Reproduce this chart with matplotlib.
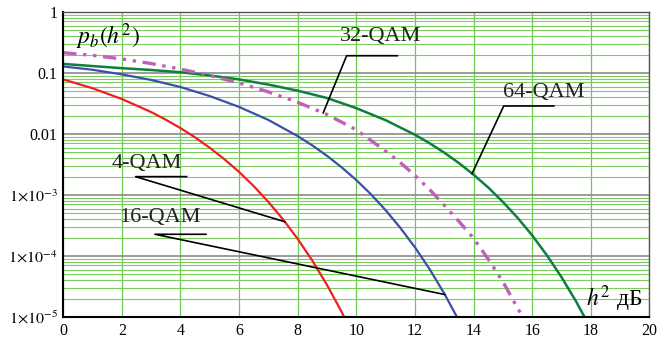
import numpy as np
import matplotlib
matplotlib.use("Agg")
import matplotlib.pyplot as plt
from matplotlib.ticker import FixedLocator, NullFormatter

plt.rcParams["font.family"] = ["Liberation Serif", "DejaVu Serif"]
plt.rcParams["mathtext.fontset"] = "stix"

# --- data: bit error probability vs h^2 [dB] ---
x_4qam = [0, 1, 2, 3, 3.5, 4, 4.5, 5, 5.5, 6, 6.5, 7, 7.5, 8, 8.5, 9, 9.5, 9.6]
p_4qam = [0.0786, 0.0563, 0.0375, 0.0229, 0.01717, 0.0125, 0.0088, 0.00595, 0.00386,
          0.00239, 0.00140, 7.7e-4, 3.98e-4, 1.91e-4, 8.4e-5, 3.36e-5, 1.21e-5, 9.7e-6]

x_16qam = [0, 1, 2, 3, 4, 5, 6, 7, 8, 8.5, 9, 9.5, 10, 10.5, 11, 11.5, 12, 12.5,
           13, 13.4, 13.45]
p_16qam = [0.128, 0.113, 0.095, 0.077, 0.059, 0.0419, 0.0278, 0.0170, 0.00924,
           0.0065, 0.00439, 0.00284, 0.00176, 0.001026, 5.64e-4, 2.9e-4, 1.39e-4,
           6.1e-5, 2.43e-5, 1.07e-5, 9.7e-6]

x_32qam = [0, 1, 2, 3, 4, 5, 6, 7, 8, 9, 10, 11, 11.5, 12, 12.5, 13, 13.5, 14,
           14.5, 15, 15.5, 15.68]
p_32qam = [0.215, 0.195, 0.170, 0.143, 0.116, 0.091, 0.0687, 0.049, 0.0331, 0.0209,
           0.0117, 0.00525, 0.0034, 0.00209, 0.00123, 6.8e-4, 3.7e-4, 1.95e-4,
           8.9e-5, 3.8e-5, 1.4e-5, 1.0e-5]

x_64qam = [0, 1, 2, 3, 4, 5, 6, 7, 8, 9, 10, 11, 12, 12.5, 13, 13.5, 14, 14.5, 15,
           15.5, 16, 16.5, 17, 17.5, 17.8]
p_64qam = [0.141, 0.130, 0.120, 0.112, 0.103, 0.091, 0.0785, 0.0646, 0.0513, 0.0389,
           0.0265, 0.01686, 0.00972, 0.00706, 0.00495, 0.00334, 0.00215, 0.00133,
           7.7e-4, 4.24e-4, 2.18e-4, 1.03e-4, 4.5e-5, 1.79e-5, 9.7e-6]

x_ticks = list(range(0, 21, 2))
y_ticks = [1e-5, 1e-4, 1e-3, 1e-2, 0.1, 1]
y_ticklabels = [r"$1{\times}10^{-5}$", r"$1{\times}10^{-4}$", r"$1{\times}10^{-3}$",
                "0.01", "0.1", "1"]

fig = plt.figure(figsize=(6.7, 3.41), dpi=100)
ax = fig.add_axes([0.0943, 0.0704, 0.875, 0.8944])

ax.set_yscale("log")
ax.set_xlim(0, 20)
ax.set_ylim(1e-5, 1)

# grid: green verticals, gray decades, green minor lines
ax.set_xticks(x_ticks)
ax.set_xticklabels([str(t) for t in x_ticks], fontsize=11.5)
ax.yaxis.set_major_locator(FixedLocator(y_ticks))
ax.set_yticklabels(y_ticklabels, fontsize=11.5)
minors = [m * 10.0 ** e for e in range(-5, 0) for m in range(2, 10)]
ax.yaxis.set_minor_locator(FixedLocator(minors))
ax.yaxis.set_minor_formatter(NullFormatter())
ax.tick_params(which="both", length=0, pad=4)
ax.grid(axis="x", which="major", color="#6cc850", lw=0.9)
ax.grid(axis="y", which="major", color="#8a8a8a", lw=1.2)
ax.grid(axis="y", which="minor", color="#7ccc60", lw=0.8)
ax.set_axisbelow(True)

for s in ["top", "right"]:
    ax.spines[s].set_color("#555555")
    ax.spines[s].set_linewidth(1.0)
for s in ["left", "bottom"]:
    ax.spines[s].set_color("black")
    ax.spines[s].set_linewidth(1.5)

ax.plot(x_4qam, p_4qam, color="#ee2020", lw=1.6)
ax.plot(x_16qam, p_16qam, color="#3a50a8", lw=1.6)
ax.plot(x_64qam, p_64qam, color="#0e7f3c", lw=1.8)
ax.plot(x_32qam, p_32qam, color="#c060b8", lw=2.4, dashes=(4, 2, 1, 2, 1, 2))


def curve_at(xs, ps, x):
    return 10 ** np.interp(x, xs, np.log10(ps))


# labels with leader lines
labels = [
    ("32-QAM", 9.45, 0.39, 9.67, 11.4, 0.192, 8.87, x_32qam, p_32qam),
    ("64-QAM", 15.0, 0.0475, 15.03, 16.74, 0.0288, 13.95, x_64qam, p_64qam),
    ("4-QAM", 1.65, 0.0033, 2.47, 4.21, 0.0020, 7.56, x_4qam, p_4qam),
    ("16-QAM", 1.9, 4.3e-4, 3.13, 4.87, 2.27e-4, 13.02, x_16qam, p_16qam),
]
for txt, tx, ty, hx0, hx1, hy, tipx, xs, ps in labels:
    ax.text(tx, ty, txt, fontsize=16, va="center", ha="left", color="#222222")
    ax.plot([tipx, hx0, hx1], [curve_at(xs, ps, tipx), hy, hy], color="black", lw=1.2)

ax.text(0.45, 0.39, r"$p_b(h^2)$", fontsize=17, va="center", ha="left")
ax.text(17.85, 2.0e-5, r"$h^2$ дБ", fontsize=17, va="center", ha="left")

fig.savefig("out.png", dpi=100)
plt.close(fig)
